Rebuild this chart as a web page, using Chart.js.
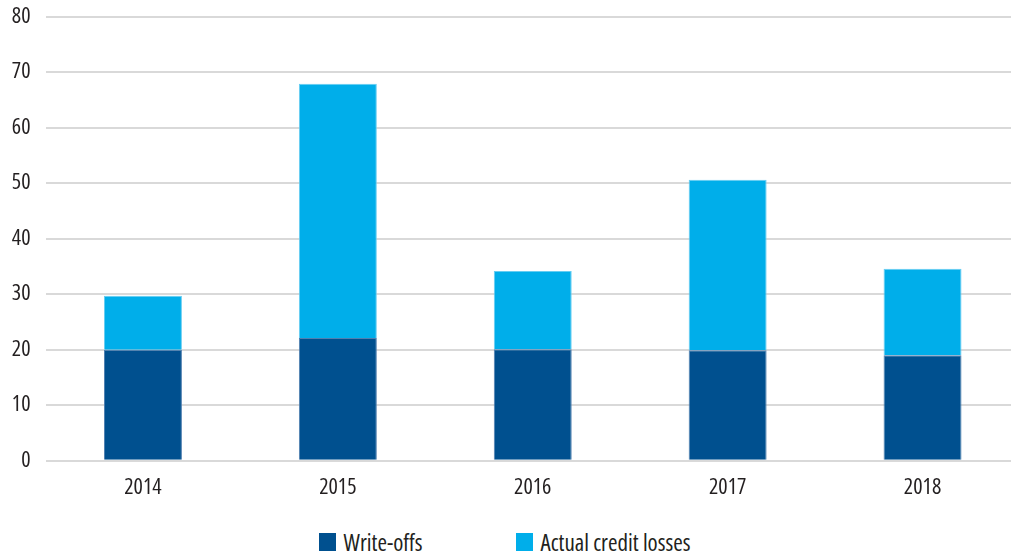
<!DOCTYPE html>
<html>
<head>
<meta charset="utf-8">
<script src="https://cdn.jsdelivr.net/npm/chart.js@4"></script>
<style>
  html, body { margin: 0; padding: 0; background: #fff; overflow: hidden; }
  #wrap { position: relative; width: 1020px; height: 510px; }
  #legend {
    position: absolute; left: 0; top: 528px; width: 1009px;
    display: flex; justify-content: center; gap: 93px;
    font-family: 'Open Sans', 'DejaVu Sans Condensed', sans-serif;
    font-stretch: condensed; font-size: 23px; color: #231f20;
  }
  #legend .item { display: flex; align-items: center; line-height: 28px; }
  #legend .box { width: 17px; height: 18px; margin-right: 8px; }
</style>
</head>
<body>
<div id="wrap"><canvas id="myChart"></canvas></div>
<div id="legend"></div>
<script>
var years = ['2014', '2015', '2016', '2017', '2018'];
var writeOffs = [20.0, 22.1, 20.1, 19.9, 19.0];
var actualLosses = [9.7, 45.8, 14.1, 30.7, 15.6];
var yTicks = [0, 10, 20, 30, 40, 50, 60, 70, 80];

Chart.defaults.font.family = "'Open Sans', 'DejaVu Sans Condensed', sans-serif";
Chart.defaults.font.weight = 'normal condensed';
Chart.defaults.font.size = 22;
Chart.defaults.color = '#231f20';

var data = {
  labels: years,
  datasets: [
    {
      label: 'Write-offs',
      data: writeOffs,
      backgroundColor: '#00508f',
      borderColor: '#4f7fb0',
      borderWidth: 1,
      borderSkipped: 'bottom',
    },
    {
      label: 'Actual credit losses',
      data: actualLosses,
      backgroundColor: '#00aeea',
      borderColor: '#66cdf2',
      borderWidth: 1,
      borderSkipped: 'bottom',
    },
  ],
};

var options = {
  responsive: true,
  maintainAspectRatio: false,
  animation: false,
  layout: { padding: { top: 16.7, left: 0, right: 0, bottom: 0 } },
  datasets: {
    bar: { barPercentage: 0.4, categoryPercentage: 1 },
  },
  scales: {
    x: {
      stacked: true,
      grid: { display: false, drawTicks: false },
      border: { display: false },
      ticks: { padding: 14 },
      afterFit: function (scale) { scale.height = 49.3; },
    },
    y: {
      stacked: true,
      min: 0,
      max: 80,
      afterBuildTicks: function (scale) {
        scale.ticks = yTicks.map(function (v) { return { value: v }; });
      },
      grid: { color: '#d9d9d9', lineWidth: 2, drawTicks: false },
      border: { display: false },
      ticks: { padding: 15 },
      afterFit: function (scale) {
        // fixed gutter for the labels, no extra room above the top line
        scale.width = 45.5;
        scale.paddingTop = 0;
        scale.paddingBottom = 0;
      },
    },
  },
  plugins: {
    legend: { display: false },
    tooltip: { enabled: false },
  },
};

var ctx = document.getElementById('myChart').getContext('2d');
var myChart = new Chart(ctx, {
  type: 'bar',
  data: data,
  options: options,
});

// legend below the canvas, built from the datasets
var legendEl = document.getElementById('legend');
myChart.data.datasets.forEach(function (ds) {
  var item = document.createElement('div');
  item.className = 'item';
  var box = document.createElement('span');
  box.className = 'box';
  box.style.background = ds.backgroundColor;
  item.appendChild(box);
  item.appendChild(document.createTextNode(ds.label));
  legendEl.appendChild(item);
});
</script>
</body>
</html>
